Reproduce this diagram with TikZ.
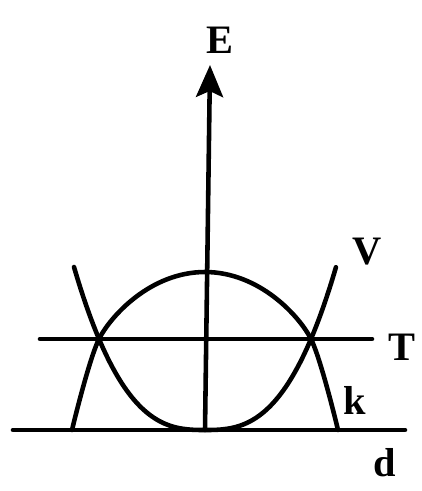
\documentclass[tikz,border=0pt]{standalone}
\usepackage{fontspec}
\setmainfont{Liberation Serif}
\usetikzlibrary{arrows.meta}
\tikzset{
  curveline/.style={line width=2.6pt,line cap=round,line join=round},
  axisarrow/.style={curveline,-{Stealth[length=6.4mm,width=5.4mm,inset=1.2mm]}},
  curvelabel/.style={font=\fontsize{23}{27}\selectfont\bfseries,inner sep=0pt}
}
\begin{document}
\begin{tikzpicture}[x=0.02cm,y=-0.02cm]
  \useasboundingbox (0,0) rectangle (422,491);
  % axis and reference lines
  \coordinate (O) at (205,430);
  \coordinate (Etip) at (210,65);
  \coordinate (dleft) at (13,430);
  \coordinate (dright) at (405,430);
  \coordinate (Tleft) at (40,339);
  \coordinate (Tright) at (372,339);
  \draw[curveline] (dleft) -- (dright);
  \draw[curveline] (Tleft) -- (Tright);
  \draw[axisarrow] (O) -- (Etip);
  % curve k
  \coordinate (kleft) at (72,430);
  \coordinate (Xleft) at (99,339);
  \coordinate (ktop) at (205,272);
  \coordinate (Xright) at (311,339);
  \coordinate (kright) at (338,430);
  \draw[curveline] (kleft) .. controls (78,405) and (91,355) .. (Xleft)
    .. controls (110,317) and (150,272) .. (ktop)
    .. controls (260,272) and (300,317) .. (Xright)
    .. controls (319,355) and (332,405) .. (kright);
  % curve V
  \draw[curveline] plot[domain=-1:1,samples=161]
    ({205+131*\x},{430-163*abs(\x)^2.75});
  % labels
  \node[curvelabel] (Elabel) at (220,40) {E};
  \node[curvelabel] (Vlabel) at (367,252) {V};
  \node[curvelabel] (Tlabel) at (402,347) {T};
  \node[curvelabel] (klabel) at (355,400) {k};
  \node[curvelabel] (dlabel) at (385,463) {d};
\end{tikzpicture}
\end{document}
